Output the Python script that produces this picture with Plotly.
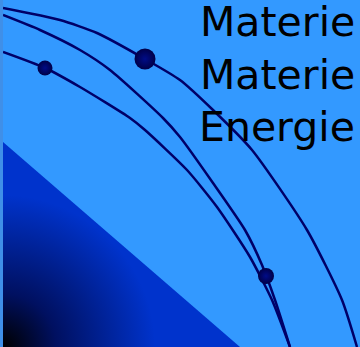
import numpy as np
import plotly.graph_objects as go

# Text labels
labels = ["Materie", "Materie", "Energie"]
label_y = [35, 88, 140]

# Curves (x, y in pixel-like coordinates, y downward)
curve_a_x = [3, 60, 97, 145, 180, 213, 252, 307, 342, 357]
curve_a_y = [8, 20, 33, 59, 80, 110, 150, 230, 300, 347]
curve_b_x = [3, 40, 80, 110, 163, 180, 213, 245, 262, 275, 290]
curve_b_y = [15, 30, 50, 70, 118, 137, 183, 230, 265, 300, 347]
curve_c_x = [3, 45, 80, 130, 145, 187, 217, 250, 272, 290]
curve_c_y = [52, 68, 87, 118, 130, 170, 207, 257, 300, 347]

# Dots
dot_x = [145, 45, 266]
dot_y = [59, 68, 276]
dot_size = [21, 15, 16]

# Triangle
tri_x = [3, 240, 3, 3]
tri_y = [142, 347, 347, 142]

BG = "#3399FF"
fig = go.Figure()

fig.add_trace(go.Scatter(x=tri_x, y=tri_y, mode="lines", fill="toself",
                         fillcolor="#0033CC", line=dict(width=0), hoverinfo="skip"))

t = np.linspace(0, 2 * np.pi, 181)
R = 152
fig.add_trace(go.Scatter(x=3 + R * np.cos(t), y=347 + R * np.sin(t), mode="lines",
                         fill="toself", line=dict(width=0),
                         fillgradient=dict(type="radial",
                                           colorscale=[[0, "#000000"], [0.35, "#001060"], [1, "#0033CC"]]),
                         hoverinfo="skip"))

for cx, cy in [(curve_a_x, curve_a_y), (curve_b_x, curve_b_y), (curve_c_x, curve_c_y)]:
    fig.add_trace(go.Scatter(x=cx, y=cy, mode="lines",
                             line=dict(color="#000068", width=2.5, shape="spline", smoothing=0.6),
                             hoverinfo="skip"))

fig.add_trace(go.Scatter(x=dot_x, y=dot_y, mode="markers",
                         marker=dict(size=dot_size, color="#000048", opacity=1,
                                     gradient=dict(type="radial", color="#000c88"),
                                     line=dict(width=0)),
                         hoverinfo="skip"))

for lab, ly in zip(labels, label_y):
    fig.add_annotation(x=356, y=ly, text=lab, showarrow=False, xanchor="right",
                       yanchor="bottom", yshift=-12, borderpad=0,
                       font=dict(family="DejaVu Sans", size=41, color="#000000"))

fig.update_layout(
    width=360, height=347,
    margin=dict(l=3, r=0, t=0, b=0),
    paper_bgcolor="#3f8fe8", plot_bgcolor=BG,
    showlegend=False,
    xaxis=dict(range=[3, 360], visible=False, fixedrange=True),
    yaxis=dict(range=[347, 0], visible=False, fixedrange=True),
)
fig.write_html("out.html", config={"displayModeBar": False},
               post_script="document.body.style.margin='0';document.body.style.padding='0';")
